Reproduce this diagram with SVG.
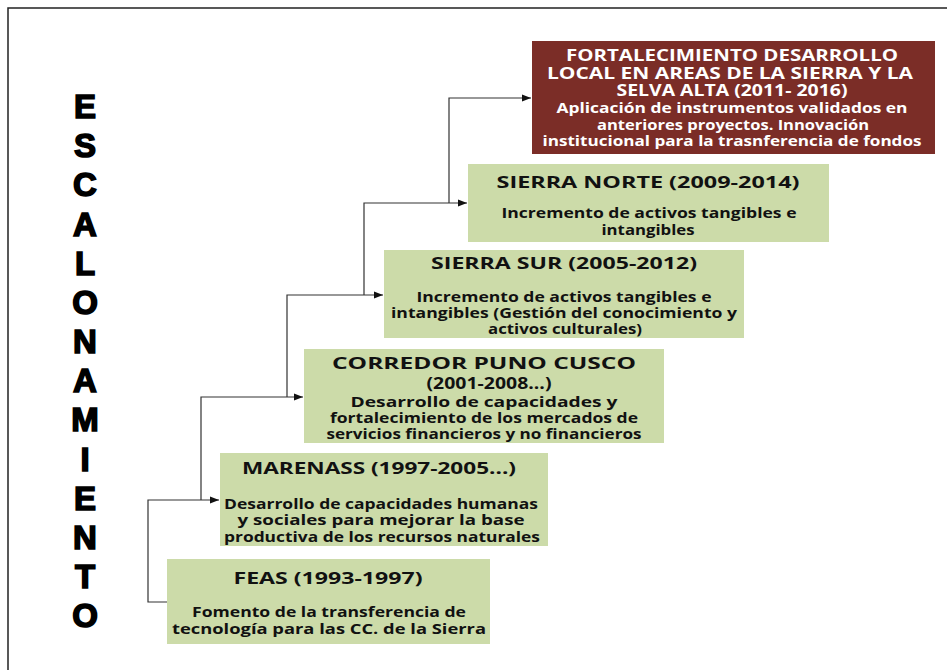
<svg xmlns="http://www.w3.org/2000/svg" width="947" height="670" viewBox="0 0 947 670">
<style>
.green{fill:#CCDBA9}
.red{fill:#7B2D27}
.t{font-family:"Open Sans",Lato,"Liberation Sans",sans-serif;font-weight:700;text-anchor:middle;fill:#111}
.tt{font-size:16.5px}
.tb{font-size:14px}
.w{fill:#fff}
.rt{font-size:15.5px}
.rb{font-size:14px}
.conn{fill:none;stroke:#333;stroke-width:1.2}
.big{font-family:"Liberation Sans",Arial,sans-serif;font-weight:900;font-size:33px;text-anchor:middle;fill:#000;stroke:#000;stroke-width:1.6}
</style>
<defs>
<marker id="arr" markerWidth="10" markerHeight="8" refX="9" refY="4" orient="auto" markerUnits="userSpaceOnUse">
<path d="M0,0.5 L9,4 L0,7.5 Z" fill="#111"/>
</marker>
</defs>
<rect width="947" height="670" fill="#fff"/>
<path d="M8,670 V8 H947" fill="none" stroke="#222" stroke-width="1.5"/>
<g id="title">
<text class="big" x="85" y="118">E</text>
<text class="big" x="85" y="157">S</text>
<text class="big" x="85" y="196">C</text>
<text class="big" x="85" y="236">A</text>
<text class="big" x="85" y="275">L</text>
<text class="big" x="85" y="314">O</text>
<text class="big" x="85" y="353">N</text>
<text class="big" x="85" y="392">A</text>
<text class="big" x="85" y="431">M</text>
<text class="big" x="85" y="471">I</text>
<text class="big" x="85" y="510">E</text>
<text class="big" x="85" y="549">N</text>
<text class="big" x="85" y="588">T</text>
<text class="big" x="85" y="627">O</text>
</g>
<g id="connectors">
<path class="conn" d="M167,602 H148 V500 H219" marker-end="url(#arr)"/>
<path class="conn" d="M201,500 V397 H303" marker-end="url(#arr)"/>
<path class="conn" d="M287,397 V295 H383" marker-end="url(#arr)"/>
<path class="conn" d="M364,295 V203 H467" marker-end="url(#arr)"/>
<path class="conn" d="M449,203 V98 H531" marker-end="url(#arr)"/>
</g>
<g id="feas">
<rect class="green" x="167" y="559" width="323" height="85"/>
<text class="t tt" x="328" y="584" textLength="189" lengthAdjust="spacingAndGlyphs">FEAS (1993-1997)</text>
<text class="t tb" x="329" y="617" textLength="274" lengthAdjust="spacingAndGlyphs">Fomento de la transferencia de</text>
<text class="t tb" x="329" y="634" textLength="314" lengthAdjust="spacingAndGlyphs">tecnología para las CC.  de la Sierra</text>
</g>
<g id="marenass">
<rect class="green" x="220" y="453" width="328" height="93"/>
<text class="t tt" x="379" y="474" textLength="274" lengthAdjust="spacingAndGlyphs">MARENASS (1997-2005...)</text>
<text class="t tb" x="381" y="509" textLength="314" lengthAdjust="spacingAndGlyphs">Desarrollo de capacidades humanas</text>
<text class="t tb" x="381" y="525" textLength="287" lengthAdjust="spacingAndGlyphs">y sociales para mejorar la base</text>
<text class="t tb" x="382" y="542" textLength="316" lengthAdjust="spacingAndGlyphs">productiva de los recursos naturales</text>
</g>
<g id="corredor">
<rect class="green" x="304" y="349" width="360" height="94"/>
<text class="t tt" x="484" y="369" textLength="304" lengthAdjust="spacingAndGlyphs">CORREDOR PUNO CUSCO</text>
<text class="t tt" x="489" y="389" textLength="125" lengthAdjust="spacingAndGlyphs">(2001-2008...)</text>
<text class="t tb" x="484" y="407" textLength="267" lengthAdjust="spacingAndGlyphs">Desarrollo de capacidades y</text>
<text class="t tb" x="484" y="423" textLength="308" lengthAdjust="spacingAndGlyphs">fortalecimiento de los mercados de</text>
<text class="t tb" x="484" y="439" textLength="315" lengthAdjust="spacingAndGlyphs">servicios financieros y no financieros</text>
</g>
<g id="sierrasur">
<rect class="green" x="384" y="250" width="360" height="88"/>
<text class="t tt" x="564" y="269" textLength="266" lengthAdjust="spacingAndGlyphs">SIERRA SUR (2005-2012)</text>
<text class="t tb" x="564" y="302" textLength="295" lengthAdjust="spacingAndGlyphs">Incremento de activos tangibles e</text>
<text class="t tb" x="564" y="318" textLength="346" lengthAdjust="spacingAndGlyphs">intangibles (Gestión del conocimiento y</text>
<text class="t tb" x="565" y="334" textLength="154" lengthAdjust="spacingAndGlyphs">activos culturales)</text>
</g>
<g id="sierranorte">
<rect class="green" x="468" y="164" width="361" height="78"/>
<text class="t tt" x="648" y="188" textLength="303" lengthAdjust="spacingAndGlyphs">SIERRA NORTE (2009-2014)</text>
<text class="t tb" x="649" y="218" textLength="295" lengthAdjust="spacingAndGlyphs">Incremento de activos tangibles e</text>
<text class="t tb" x="648" y="235" textLength="93" lengthAdjust="spacingAndGlyphs">intangibles</text>
</g>
<g id="fortalecimiento">
<rect class="red" x="532" y="41" width="403" height="113"/>
<text class="t rt w" x="732" y="61" textLength="332" lengthAdjust="spacingAndGlyphs">FORTALECIMIENTO DESARROLLO</text>
<text class="t rt w" x="730" y="79" textLength="366" lengthAdjust="spacingAndGlyphs">LOCAL EN AREAS DE LA SIERRA Y LA</text>
<text class="t rt w" x="732" y="96" textLength="231" lengthAdjust="spacingAndGlyphs">SELVA ALTA (2011- 2016)</text>
<text class="t rb w" x="732" y="113" textLength="351" lengthAdjust="spacingAndGlyphs">Aplicación de instrumentos validados en</text>
<text class="t rb w" x="733" y="130" textLength="272" lengthAdjust="spacingAndGlyphs">anteriores proyectos. Innovación</text>
<text class="t rb w" x="732" y="146" textLength="379" lengthAdjust="spacingAndGlyphs">institucional para la trasnferencia de fondos</text>
</g>
</svg>
